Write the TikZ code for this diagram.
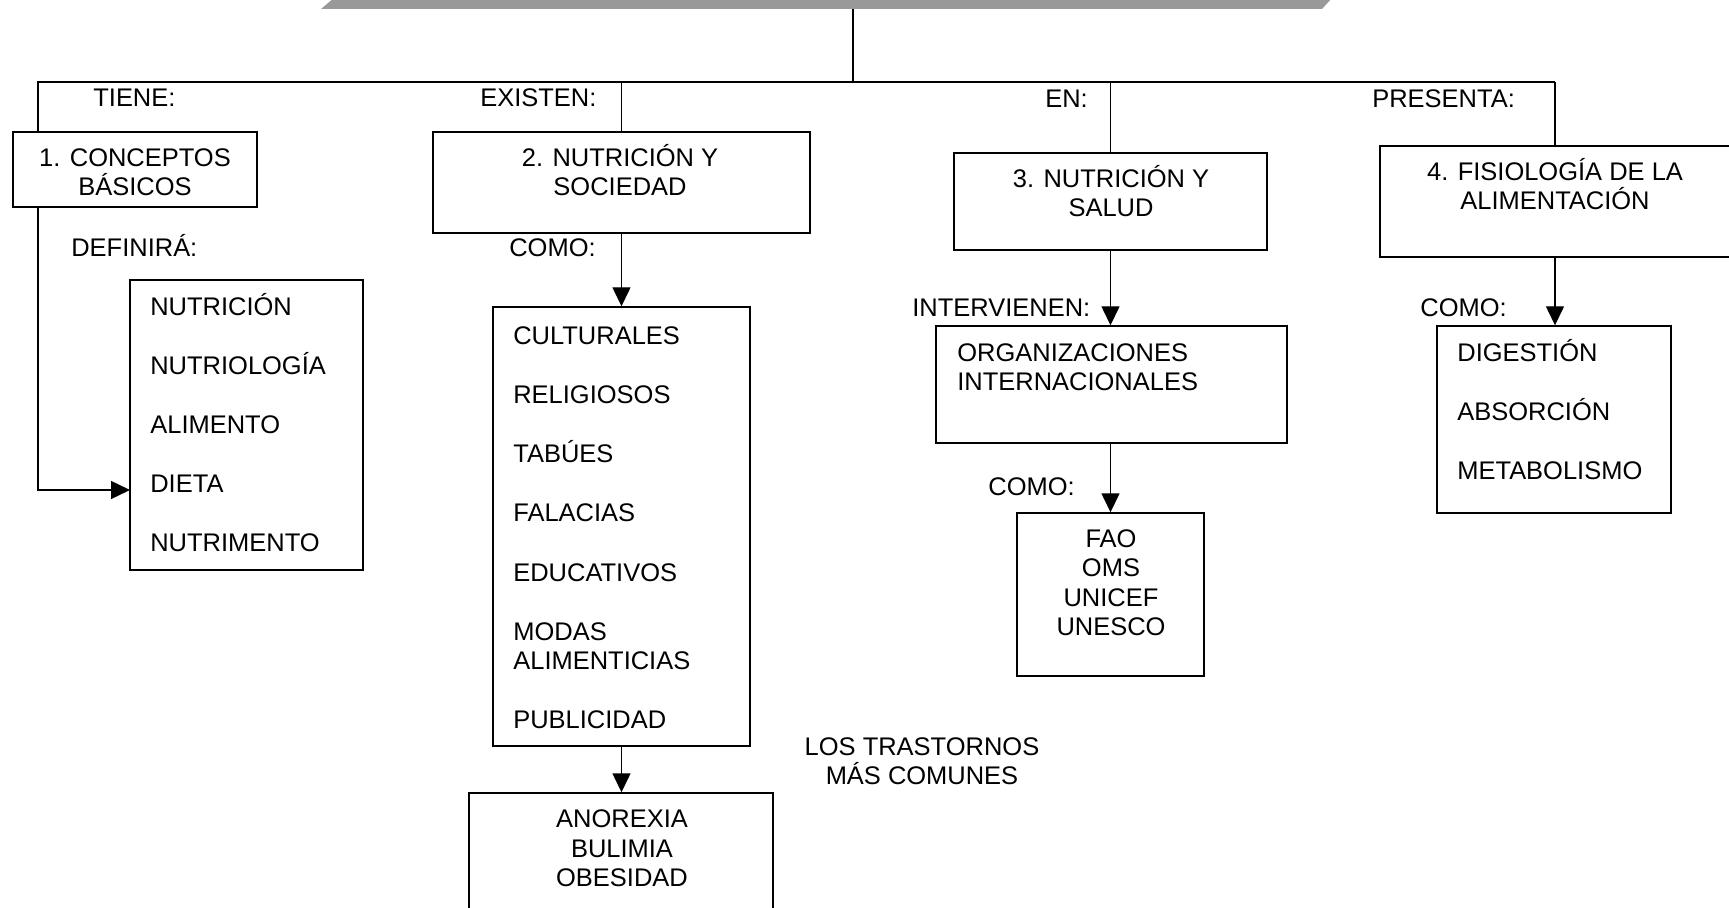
\documentclass[tikz,border=0pt]{standalone}
\usepackage{fontspec}
\setmainfont{Liberation Sans}
\usetikzlibrary{arrows.meta, positioning, fit, calc}
\definecolor{barra}{RGB}{153,153,153}

\begin{document}
\begin{tikzpicture}[
    x=0.02cm, y=-0.02cm,
    caja/.style={rectangle, draw, line width=0.8pt, inner sep=0pt},
    texto/.style={inner sep=0pt, font=\fontsize{14.5pt}{16.8pt}\selectfont, align=center, anchor=base},
    lista/.style={texto, align=left, anchor=base west},
    etiqueta/.style={inner sep=0pt, font=\fontsize{14.5pt}{16.8pt}\selectfont, anchor=base west},
    linea/.style={line width=0.8pt},
    flecha/.style={linea, -{Triangle[width=0.36cm, length=0.38cm]}}
]
    \useasboundingbox (0,0) rectangle (1729,908);

    % Title bar (bottom edge only visible)
    \fill [barra] (321,9) -- (334,-2) -- (1332,-2) -- (1322,9) -- cycle;
    \coordinate (raiz) at (853,9);
    \coordinate (ramaIzq) at (38,82);
    \coordinate (ramaDer) at (1555,82);

    % Boxes
    \node [caja, fit={(13,132) (257,207)}] (conceptos) {};
    \node [caja, fit={(130,280) (363,570)}] (definiciones) {};
    \node [caja, fit={(433,132) (810,233)}] (sociedad) {};
    \node [caja, fit={(493,307) (750,746)}] (factores) {};
    \node [caja, fit={(469,793) (773,930)}] (trastornos) {};
    \node [caja, fit={(954,153) (1267,250)}] (salud) {};
    \node [caja, fit={(936,326) (1287,443)}] (organizaciones) {};
    \node [caja, fit={(1017,513) (1204,676)}] (agencias) {};
    \node [caja, fit={(1380,146) (1745,257)}] (fisiologia) {};
    \node [caja, fit={(1437,326) (1671,513)}] (procesos) {};

    % Box texts (placed by the baseline of their last line)
    \node [texto] (tConceptos) at (135,196) {1. CONCEPTOS\\BÁSICOS};
    \node [lista] (tDefiniciones) at (150,552) {NUTRICIÓN\\[16.9pt]NUTRIOLOGÍA\\[16.9pt]ALIMENTO\\[16.9pt]DIETA\\[16.9pt]NUTRIMENTO};
    \node [texto] (tSociedad) at (620,196) {2. NUTRICIÓN Y\\SOCIEDAD};
    \node [lista] (tFactores) at (513,729) {CULTURALES\\[16.9pt]RELIGIOSOS\\[16.9pt]TABÚES\\[16.9pt]FALACIAS\\[16.9pt]EDUCATIVOS\\[16.9pt]MODAS\\ALIMENTICIAS\\[16.9pt]PUBLICIDAD};
    \node [texto] (tTrastornos) at (622,887) {ANOREXIA\\BULIMIA\\OBESIDAD};
    \node [texto] (tSalud) at (1111,217) {3. NUTRICIÓN Y\\SALUD};
    \node [lista] (tOrganizaciones) at (957,391) {ORGANIZACIONES\\INTERNACIONALES};
    \node [texto] (tAgencias) at (1111,636) {FAO\\OMS\\UNICEF\\UNESCO};
    \node [texto] (tFisiologia) at (1555,210) {4. FISIOLOGÍA DE LA\\ALIMENTACIÓN};
    \node [lista] (tProcesos) at (1457,480) {DIGESTIÓN\\[16.9pt]ABSORCIÓN\\[16.9pt]METABOLISMO};
    \node [texto] (comunes) at (922,785) {LOS TRASTORNOS\\MÁS COMUNES};

    % Link words
    \node [etiqueta] (tiene) at (93,107) {TIENE:};
    \node [etiqueta] (existen) at (480,107) {EXISTEN:};
    \node [etiqueta] (en) at (1045,108) {EN:};
    \node [etiqueta] (presenta) at (1372,108) {PRESENTA:};
    \node [etiqueta] (definira) at (71,257) {DEFINIRÁ:};
    \node [etiqueta] (como1) at (509,257) {COMO:};
    \node [etiqueta] (intervienen) at (912,317) {INTERVIENEN:};
    \node [etiqueta] (como2) at (988,496) {COMO:};
    \node [etiqueta] (como3) at (1420,317) {COMO:};

    % Connections
    \coordinate (entrada) at (130,490);
    \draw [linea] (raiz) -- (raiz |- ramaIzq);
    \draw [linea] (ramaDer) -- (ramaIzq) -- (ramaIzq |- conceptos.north);
    \draw [linea] (sociedad.north |- ramaIzq) -- (sociedad.north);
    \draw [linea] (salud.north |- ramaIzq) -- (salud.north);
    \draw [linea] (ramaDer) -- (ramaDer |- fisiologia.north);
    \draw [flecha] (conceptos.south -| ramaIzq) |- (entrada);
    \draw [flecha] (sociedad.south) -- (sociedad.south |- factores.north);
    \draw [flecha] (factores.south -| sociedad.south) -- (sociedad.south |- trastornos.north);
    \draw [flecha] (salud.south) -- (salud.south |- organizaciones.north);
    \draw [flecha] (salud.south |- organizaciones.south) -- (salud.south |- agencias.north);
    \draw [flecha] (ramaDer |- fisiologia.south) -- (ramaDer |- procesos.north);
\end{tikzpicture}
\end{document}
